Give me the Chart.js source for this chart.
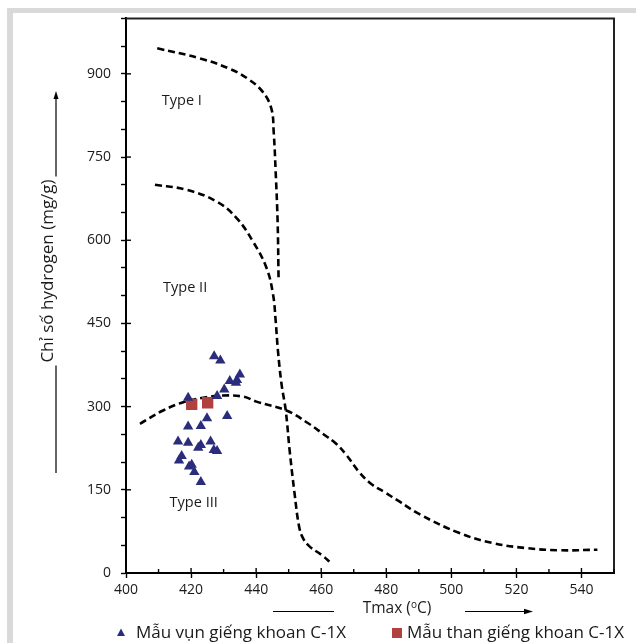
<!DOCTYPE html>
<html><head><meta charset="utf-8">
<script src="https://cdn.jsdelivr.net/npm/chart.js@4.4.1/dist/chart.umd.min.js"></script>
<style>html,body{margin:0;padding:0;background:#fff;}#wrap{width:636px;height:643px;}</style>
</head><body><div id="wrap"><canvas id="c" width="636" height="643"></canvas></div>
<script>
const FONT = "'Open Sans', 'Noto Sans', sans-serif";

// Curves (Tmax °C, HI mg/g)
const typeI_Tmax = [409.6, 422.7, 431.9, 437.5, 442.1, 444.7, 445.4, 446.0, 446.6, 446.9];
const typeI_HI   = [946, 928, 909, 891, 867, 837, 795, 724, 634, 530];

const typeII_Tmax = [408.9, 418.6, 427.8, 434.0, 439.0, 443.2, 445.2, 446.0, 446.7, 447.8, 449.1, 450.3, 451.8, 453.2, 454.4, 456.4, 460.0, 463.1];
const typeII_HI   = [700, 691, 670, 640, 598, 550, 502, 455, 401, 341, 293, 221, 144, 84, 63, 48, 33, 18];

const typeIII_Tmax = [404.3, 411.4, 417.6, 423.7, 429.8, 436.0, 440.1, 449.3, 456.0, 460.5, 464.6, 467.7, 471.8, 475.5, 479.4, 484.0, 490.2, 502.5, 512.7, 522.9, 533.1, 544.9];
const typeIII_HI   = [269, 293, 308, 316, 320, 318, 309, 293, 270, 251, 233, 213, 181, 160, 146, 129, 106, 72, 54, 45, 41, 42];

// Samples
const cuttings_Tmax = [427.1, 429.0, 435.0, 434.1, 431.9, 433.8, 430.2, 428.0, 419.1, 424.9, 431.1, 419.1, 423.0, 416.0, 419.1, 423.0, 422.2, 426.0, 427.0, 428.0, 417.1, 416.3, 419.4, 420.2, 421.0, 423.0];
const cuttings_HI   = [391, 383, 358, 348, 346, 343, 331, 319, 316, 279, 283, 264, 265, 237, 235, 231, 226, 237, 222, 220, 211, 203, 192, 195, 182, 164];
const coal_Tmax = [420.2, 425.1];
const coal_HI   = [304, 307];

const seriesNames = ['Mẫu vụn giếng khoan C-1X', 'Mẫu than giếng khoan C-1X'];
const typeNames = ['Type I', 'Type II', 'Type III'];
const typeName_Tmax = [411.0, 411.4, 413.4];
const typeName_HI = [851, 514, 126];

const xTitleParts = ['Tmax (', 'o', 'C)'];
const yTitle = 'Chỉ số hydrogen (mg/g)';

const toPts = (xs, ys) => xs.map((v, i) => ({x: v, y: ys[i]}));

const NAVY = '#2b2d7c', RED = '#b0413e';

const curve = (label, xs, ys) => ({
  label, data: toPts(xs, ys), showLine: true, pointRadius: 0, borderColor: '#000',
  borderWidth: 2.6, borderDash: [7, 4], tension: 0.4, fill: false, order: 2
});

const decor = {
  id: 'decor',
  beforeDraw(chart) {
    const ctx = chart.ctx;
    ctx.save();
    ctx.fillStyle = '#fff';
    ctx.fillRect(0, 0, chart.width, chart.height);
    ctx.fillStyle = '#d9d9d9';
    ctx.fillRect(7, 8, chart.width, 5);
    ctx.fillRect(7, 8, 6, chart.height);
    ctx.restore();
  },
  afterDraw(chart) {
    const {ctx, chartArea: {left, right, top, bottom}, scales: {x, y}} = chart;
    ctx.save();
    // frame top/right
    ctx.strokeStyle = '#222'; ctx.lineWidth = 2;
    ctx.beginPath(); ctx.moveTo(left, top); ctx.lineTo(right, top); ctx.lineTo(right, bottom); ctx.stroke();
    // inner ticks
    ctx.lineWidth = 1.4; ctx.strokeStyle = '#000';
    x.ticks.forEach(t => {
      const px = x.getPixelForValue(t.value);
      const len = t.value % 20 === 0 ? 5 : 4;
      ctx.beginPath(); ctx.moveTo(px, bottom); ctx.lineTo(px, bottom - len); ctx.stroke();
    });
    y.ticks.forEach(t => {
      if (t.value % 150 === 0) {
        const py = y.getPixelForValue(t.value);
        ctx.beginPath(); ctx.moveTo(left, py); ctx.lineTo(left + 5, py); ctx.stroke();
      }
    });
    // type labels
    ctx.fillStyle = '#1a1a1a';
    ctx.font = '14.5px ' + FONT;
    ctx.textAlign = 'left'; ctx.textBaseline = 'middle';
    typeNames.forEach((n, i) => {
      ctx.fillText(n, x.getPixelForValue(typeName_Tmax[i]), y.getPixelForValue(typeName_HI[i]));
    });
    // y title
    ctx.font = '17px ' + FONT;
    const yc = 271, xc = 48;
    const w = ctx.measureText(yTitle).width;
    ctx.save();
    ctx.translate(xc, yc); ctx.rotate(-Math.PI / 2);
    ctx.textAlign = 'center'; ctx.textBaseline = 'middle';
    ctx.fillText(yTitle, 0, 0);
    ctx.restore();
    ctx.strokeStyle = '#000'; ctx.lineWidth = 1.2; ctx.fillStyle = '#000';
    ctx.beginPath(); ctx.moveTo(56, yc + w / 2 + 3); ctx.lineTo(56, 473); ctx.stroke();
    ctx.beginPath(); ctx.moveTo(56, yc - w / 2 - 3); ctx.lineTo(56, 98); ctx.stroke();
    ctx.beginPath(); ctx.moveTo(56, 91); ctx.lineTo(53.5, 99); ctx.lineTo(58.5, 99); ctx.closePath(); ctx.fill();
    // x title
    ctx.fillStyle = '#1a1a1a';
    ctx.textBaseline = 'middle'; ctx.textAlign = 'left';
    const f1 = '15.5px ' + FONT, f2 = '10px ' + FONT;
    ctx.font = f1; const w1 = ctx.measureText(xTitleParts[0]).width, w3 = ctx.measureText(xTitleParts[2]).width;
    ctx.font = f2; const w2 = ctx.measureText(xTitleParts[1]).width;
    const tw = w1 + w2 + w3, tx = 397 - tw / 2, ty = 609;
    ctx.font = f1; ctx.fillText(xTitleParts[0], tx, ty);
    ctx.font = f2; ctx.fillText(xTitleParts[1], tx + w1, ty - 4);
    ctx.font = f1; ctx.fillText(xTitleParts[2], tx + w1 + w2, ty);
    ctx.strokeStyle = '#000'; ctx.fillStyle = '#000';
    ctx.beginPath(); ctx.moveTo(273, 611.5); ctx.lineTo(334, 611.5); ctx.stroke();
    ctx.beginPath(); ctx.moveTo(465, 611.5); ctx.lineTo(526, 611.5); ctx.stroke();
    ctx.beginPath(); ctx.moveTo(533, 611.5); ctx.lineTo(524, 608.8); ctx.lineTo(524, 614.2); ctx.closePath(); ctx.fill();
    // legend
    const ly = 633;
    ctx.fillStyle = NAVY;
    ctx.beginPath(); ctx.moveTo(121, ly - 4.5); ctx.lineTo(125, ly + 3); ctx.lineTo(117, ly + 3); ctx.closePath(); ctx.fill();
    ctx.fillStyle = RED; ctx.fillRect(392, ly - 5, 10, 10);
    ctx.fillStyle = '#1a1a1a'; ctx.font = '17px ' + FONT; ctx.textBaseline = 'middle';
    ctx.fillText(chart.data.datasets[0].label, 136, ly);
    ctx.fillText(chart.data.datasets[1].label, 407, ly);
    ctx.restore();
  }
};

new Chart(document.getElementById('c'), {
  type: 'scatter',
  data: {
    datasets: [
      {label: seriesNames[0], data: toPts(cuttings_Tmax, cuttings_HI), pointStyle: 'triangle', pointRadius: 6, backgroundColor: NAVY, borderColor: NAVY, borderWidth: 0, order: 0},
      {label: seriesNames[1], data: toPts(coal_Tmax, coal_HI), pointStyle: 'rect', pointRadius: 8, backgroundColor: RED, borderColor: RED, borderWidth: 0, order: 1},
      curve('Type I', typeI_Tmax, typeI_HI),
      curve('Type II', typeII_Tmax, typeII_HI),
      curve('Type III', typeIII_Tmax, typeIII_HI)
    ]
  },
  options: {
    responsive: false, animation: false, devicePixelRatio: 1,
    layout: {padding: {left: 0, top: 16, right: 22, bottom: 0}},
    plugins: {legend: {display: false}, tooltip: {enabled: false}},
    scales: {
      x: {
        type: 'linear', min: 400, max: 550, position: 'bottom',
        afterFit: s => { s.height = 70; },
        ticks: {stepSize: 10, autoSkip: false, maxRotation: 0, padding: 4, color: '#1a1a1a',
          font: {family: FONT, size: 14},
          callback: v => (v % 20 === 0 && v < 550) ? String(v) : ''},
        grid: {drawOnChartArea: false, drawTicks: true, tickLength: 5, tickWidth: 1.4,
          tickColor: c => (c.tick && c.tick.value % 20 === 0) ? '#000' : 'rgba(0,0,0,0)'},
        border: {display: true, color: '#000', width: 2}
      },
      y: {
        type: 'linear', min: 0, max: 1000, position: 'left',
        afterFit: s => { s.width = 126; },
        ticks: {stepSize: 50, autoSkip: false, padding: 10, color: '#1a1a1a',
          font: {family: FONT, size: 14},
          callback: v => (v % 150 === 0) ? String(v) : ''},
        grid: {drawOnChartArea: false, drawTicks: true, tickLength: 5, tickWidth: 1.4, tickColor: '#000'},
        border: {display: true, color: '#000', width: 2}
      }
    }
  },
  plugins: [decor]
});
</script></body></html>
